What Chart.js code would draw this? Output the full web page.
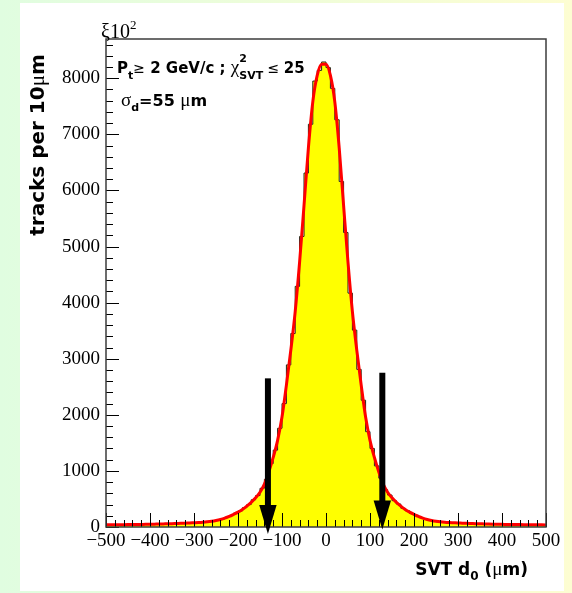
<!DOCTYPE html>
<html>
<head>
<meta charset="utf-8">
<script src="https://cdn.jsdelivr.net/npm/chart.js@4.4.0/dist/chart.umd.min.js"></script>
<style>
  html, body { margin: 0; padding: 0; }
  body {
    width: 572px; height: 593px; overflow: hidden; position: relative;
    background: linear-gradient(to right, #e0fde0, #fdfdd2);
  }
  #panel { position: absolute; left: 20px; top: 3px; width: 544px; height: 588px; background: #fff; }
  #chart { position: absolute; left: 0; top: 0; }
</style>
</head>
<body>
<div id="panel"></div>
<canvas id="chart" width="572" height="593"></canvas>
<script>
// histogram contents, 10 um bins from -500 to 500
const trackCounts = [
    38, 40, 39, 42, 41, 44, 43, 46, 47, 49,
    50, 53, 54, 57, 58, 62, 64, 68, 70, 75,
    77, 83, 87, 97, 107, 126, 143, 175, 205, 248,
    285, 345, 400, 485, 560, 690, 850, 1130, 1370, 1760,
    2200, 2890, 3450, 4290, 5180, 6310, 7180, 7950, 8140, 8290,
    8190, 7820, 7260, 6160, 5250, 4170, 3510, 2810, 2260, 1700,
    1400, 1090, 870, 665, 570, 470, 410, 335, 290, 240,
    210, 168, 147, 121, 110, 94, 89, 80, 79, 72,
    72, 66, 65, 60, 59, 55, 55, 51, 51, 47,
    48, 44, 45, 42, 43, 40, 41, 38, 39, 36
];

// red fit curve, sampled every 10 um from -500 to 500
const fitCurve = [
    38, 39, 40, 41, 42, 43, 44, 45, 46, 47,
    49, 51, 53, 55, 57, 59, 62, 65, 69, 72,
    76, 80, 85, 92, 102, 116, 134, 158, 188, 225,
    265, 312, 372, 440, 520, 620, 765, 980, 1240, 1545,
    1960, 2530, 3150, 3840, 4720, 5730, 6760, 7580, 8050, 8250,
    8250, 8050, 7580, 6760, 5730, 4720, 3840, 3150, 2530, 1960,
    1545, 1240, 980, 765, 620, 520, 440, 372, 312, 265,
    225, 188, 158, 134, 116, 102, 92, 85, 80, 76,
    72, 69, 65, 62, 59, 57, 55, 53, 51, 49,
    47, 46, 45, 44, 43, 42, 41, 40, 39, 38,
    37
];

// axis labels
const xTickValues = [-500, -400, -300, -200, -100, 0, 100, 200, 300, 400, 500];
const yTickValues = [0, 1000, 2000, 3000, 4000, 5000, 6000, 7000, 8000];

// cut arrows: x position, top of shaft, tip (in data units)
const arrowX = [-132, 128];
const arrowTop = [2650, 2750];
const arrowTip = [-125, -45];

const binEdges = trackCounts.map((_, i) => -500 + 10 * i);
const fitX = fitCurve.map((_, i) => -500 + 10 * i);

const histPoints = trackCounts.map((v, i) => ({ x: binEdges[i], y: v }));
histPoints.push({ x: 500, y: trackCounts[trackCounts.length - 1] });
const fitPoints = fitCurve.map((v, i) => ({ x: fitX[i], y: v }));

const SERIF = '"Liberation Serif", "Times New Roman", serif';
const SANS = '"DejaVu Sans", sans-serif';

function minusSign(v) {
    return v < 0 ? '\u2212' + Math.abs(v) : String(v);
}

// draw a list of text pieces one after another (for sub/superscripts)
function drawRuns(ctx, x, y, runs) {
    let prevX = x;
    runs.forEach(r => {
        ctx.font = r.f;
        const startX = r.same ? prevX : x;
        ctx.fillText(r.t, startX, y + (r.dy || 0));
        const w = ctx.measureText(r.t).width;
        prevX = startX;
        x = Math.max(x, startX + w);
    });
    return x;
}

function runsWidth(ctx, runs) {
    let w = 0;
    runs.forEach(r => { ctx.font = r.f; w += ctx.measureText(r.t).width; });
    return w;
}

const rootDecor = {
    id: 'rootDecor',
    afterDatasetsDraw(chart) {
        const { ctx, chartArea: a, scales: { x, y } } = chart;
        ctx.save();

        // ticks point inward, like ROOT
        ctx.strokeStyle = '#000';
        ctx.lineWidth = 1;
        ctx.beginPath();
        for (let v = -500; v <= 500; v += 20) {
            const px = Math.round(x.getPixelForValue(v)) + 0.5;
            const len = v % 100 === 0 ? 14 : 7;
            ctx.moveTo(px, a.bottom);
            ctx.lineTo(px, a.bottom - len);
        }
        for (let v = 0; v <= 8600; v += 200) {
            const py = Math.round(y.getPixelForValue(v)) + 0.5;
            const len = v % 1000 === 0 ? 13 : 7;
            ctx.moveTo(a.left, py);
            ctx.lineTo(a.left + len, py);
        }
        ctx.stroke();

        // frame
        ctx.strokeStyle = '#3c3c3c';
        ctx.lineWidth = 1.5;
        ctx.strokeRect(a.left, a.top, a.right - a.left, a.bottom - a.top);

        // arrows
        ctx.fillStyle = '#000';
        arrowX.forEach((v, k) => {
            const px = x.getPixelForValue(v);
            const top = y.getPixelForValue(arrowTop[k]);
            const tip = y.getPixelForValue(arrowTip[k]);
            const head = 29, half = 8.7, shaft = 3;
            ctx.fillRect(px - shaft, top, shaft * 2, tip - head - top + 1);
            ctx.beginPath();
            ctx.moveTo(px - half, tip - head);
            ctx.lineTo(px + half, tip - head);
            ctx.lineTo(px, tip);
            ctx.closePath();
            ctx.fill();
        });
        ctx.restore();
    },
    afterDraw(chart) {
        const ctx = chart.ctx;
        ctx.save();
        ctx.fillStyle = '#000';
        ctx.textBaseline = 'alphabetic';
        ctx.textAlign = 'left';

        // exponent label above the axis
        drawRuns(ctx, 101, 38, [
            { t: '\u03be10', f: '20px ' + SERIF },
            { t: '2', f: '13px ' + SERIF, dy: -9 }
        ]);

        // cuts
        drawRuns(ctx, 117, 73, [
            { t: 'P', f: 'bold 15px ' + SANS },
            { t: 't', f: 'bold 11px ' + SANS, dy: 6 },
            { t: '\u2265', f: '14px ' + SANS },
            { t: ' 2 GeV/c ; ', f: 'bold 15px ' + SANS },
            { t: '\u03c7', f: '19px ' + SERIF },
            { t: '2', f: 'bold 11px ' + SANS, dy: -11 },
            { t: 'SVT', f: 'bold 11px ' + SANS, dy: 6, same: true },
            { t: ' \u2264 ', f: '14px ' + SANS },
            { t: '25', f: 'bold 15px ' + SANS }
        ]);
        drawRuns(ctx, 121, 106, [
            { t: '\u03c3', f: '19px ' + SERIF },
            { t: 'd', f: 'bold 11px ' + SANS, dy: 5 },
            { t: '=55 ', f: 'bold 16px ' + SANS },
            { t: '\u03bc', f: '19px ' + SERIF },
            { t: 'm', f: 'bold 16px ' + SANS }
        ]);

        // x title, right aligned
        const xTitle = [
            { t: 'SVT d', f: 'bold 17px ' + SANS },
            { t: '0', f: 'bold 12px ' + SANS, dy: 5 },
            { t: ' (', f: 'bold 17px ' + SANS },
            { t: '\u03bc', f: '19px ' + SERIF },
            { t: 'm)', f: 'bold 17px ' + SANS }
        ];
        drawRuns(ctx, 528 - runsWidth(ctx, xTitle), 575, xTitle);

        // y title, rotated
        const yTitle = [
            { t: 'tracks per 10', f: 'bold 20px ' + SANS },
            { t: '\u03bc', f: '21px ' + SERIF },
            { t: 'm', f: 'bold 20px ' + SANS }
        ];
        const w = runsWidth(ctx, yTitle);
        ctx.translate(44, 145 + w / 2);
        ctx.rotate(-Math.PI / 2);
        drawRuns(ctx, 0, 0, yTitle);
        ctx.restore();
    }
};

new Chart(document.getElementById('chart'), {
    type: 'line',
    data: {
        datasets: [
            {
                label: 'fit',
                data: fitPoints,
                borderColor: '#ff0000',
                borderWidth: 3,
                pointRadius: 0,
                cubicInterpolationMode: 'monotone',
                fill: false,
                order: 0
            },
            {
                label: 'tracks',
                data: histPoints,
                stepped: 'before',
                borderColor: '#202020',
                borderWidth: 1,
                backgroundColor: '#ffff00',
                pointRadius: 0,
                fill: 'origin',
                order: 1
            }
        ]
    },
    options: {
        responsive: false,
        animation: false,
        events: [],
        layout: { padding: { top: 39, right: 26, left: 0, bottom: 0 } },
        plugins: {
            legend: { display: false },
            tooltip: { enabled: false }
        },
        scales: {
            x: {
                type: 'linear',
                min: -500,
                max: 500,
                grid: { display: false, drawTicks: false },
                border: { display: false },
                ticks: {
                    autoSkip: false,
                    maxRotation: 0,
                    padding: 3,
                    color: '#000',
                    font: { family: SERIF, size: 19 },
                    callback: v => minusSign(v)
                },
                afterBuildTicks: s => { s.ticks = xTickValues.map(v => ({ value: v })); },
                afterFit: s => { s.height = 66; }
            },
            y: {
                type: 'linear',
                min: 0,
                max: 8700,
                grid: { display: false, drawTicks: false },
                border: { display: false },
                ticks: {
                    autoSkip: false,
                    padding: 6,
                    color: '#000',
                    font: { family: SERIF, size: 19 },
                    callback: v => String(v)
                },
                afterBuildTicks: s => { s.ticks = yTickValues.map(v => ({ value: v })); },
                afterFit: s => { s.width = 106; }
            }
        }
    },
    plugins: [rootDecor]
});
</script>
</body>
</html>
